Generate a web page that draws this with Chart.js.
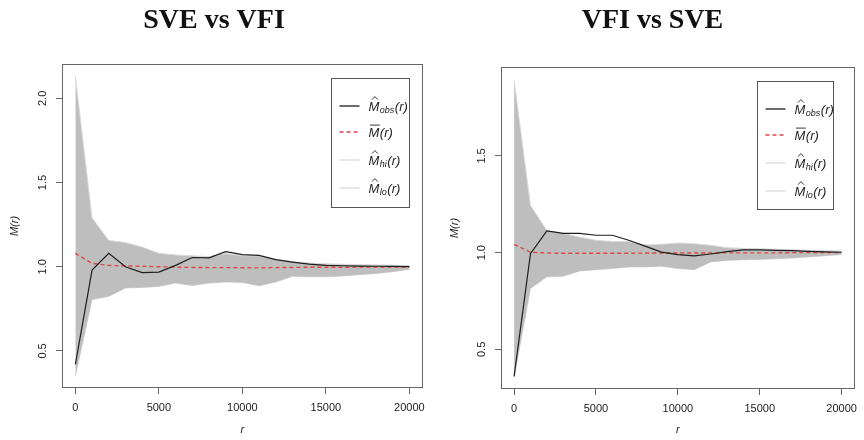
<!DOCTYPE html>
<html lang="en">
<head>
  <meta charset="UTF-8">
  <title>SVE vs VFI</title>
  <script src="https://cdn.jsdelivr.net/npm/chart.js"></script>
  <style>
    body {
      margin: 0;
      background: #fff;
    }
    canvas.panel {
      position: absolute;
      top: 0;
    }
  </style>
</head>
<body>
  <canvas id="leftChart" class="panel" width="432" height="440" style="left:0;width:432px;height:440px"></canvas>
  <canvas id="rightChart" class="panel" width="432" height="440" style="left:432px;width:432px;height:440px"></canvas>

  <script>
    // distance r at which M(r) is evaluated
    const rValues = [0, 1000, 2000, 3000, 4000, 5000, 6000, 7000, 8000, 9000, 10000,
      11000, 12000, 13000, 14000, 15000, 16000, 17000, 18000, 19000, 20000];
    const xTicks = [0, 5000, 10000, 15000, 20000];

    // SVE vs VFI
    const sveObs = [0.42, 0.98, 1.08, 1.00, 0.965, 0.968, 1.008, 1.055, 1.053, 1.09, 1.072,
      1.068, 1.042, 1.028, 1.016, 1.008, 1.006, 1.004, 1.003, 1.002, 1.001];
    const sveMean = [1.08, 1.02, 1.008, 1.005, 1.003, 1.0, 0.998, 0.996, 0.995, 0.995, 0.994,
      0.993, 0.995, 0.996, 0.997, 0.997, 0.997, 0.998, 0.998, 0.998, 0.998];
    const sveHi = [2.13, 1.29, 1.156, 1.144, 1.117, 1.08, 1.07, 1.065, 1.06, 1.078, 1.066,
      1.064, 1.045, 1.03, 1.022, 1.018, 1.015, 1.013, 1.011, 1.009, 1.006];
    const sveLo = [0.35, 0.805, 0.824, 0.874, 0.877, 0.883, 0.903, 0.889, 0.903, 0.909, 0.907,
      0.887, 0.909, 0.943, 0.94, 0.94, 0.945, 0.953, 0.96, 0.97, 0.985];
    const sveTicks = [0.5, 1.0, 1.5, 2.0];

    // VFI vs SVE
    const vfiObs = [0.36, 0.995, 1.112, 1.10, 1.10, 1.09, 1.09, 1.064, 1.034, 1.003, 0.99,
      0.983, 0.993, 1.005, 1.014, 1.014, 1.012, 1.01, 1.007, 1.004, 1.002];
    const vfiMean = [1.043, 1.002, 0.998, 0.997, 0.997, 0.997, 0.997, 0.997, 0.998, 0.998, 0.998,
      0.998, 0.998, 0.999, 0.999, 0.999, 0.999, 1.0, 1.0, 1.0, 1.0];
    const vfiHi = [1.89, 1.244, 1.115, 1.10, 1.08, 1.064, 1.058, 1.058, 1.04, 1.043, 1.05,
      1.046, 1.038, 1.026, 1.022, 1.02, 1.018, 1.015, 1.012, 1.01, 1.008];
    const vfiLo = [0.355, 0.815, 0.875, 0.878, 0.905, 0.912, 0.918, 0.926, 0.926, 0.93, 0.918,
      0.912, 0.952, 0.96, 0.963, 0.965, 0.968, 0.972, 0.978, 0.984, 0.99];
    const vfiTicks = [0.5, 1.0, 1.5];

    const FRAME = '#666';
    const INK = '#222';
    const OBS_COLOR = '#1e1e1e';
    const MEAN_COLOR = '#dd4646';
    const ENV_LINE = '#dadada';
    const ENV_FILL = '#bebebe';

    const toPoints = (ys) => ys.map((y, i) => ({ x: rValues[i], y: y }));

    // legend rows: line style + the M symbol decoration + subscript
    const keyRows = [
      { color: OBS_COLOR, dash: [], mark: 'hat', sub: 'obs' },
      { color: MEAN_COLOR, dash: [4, 3], mark: 'bar', sub: '' },
      { color: ENV_LINE, dash: [], mark: 'hat', sub: 'hi' },
      { color: ENV_LINE, dash: [], mark: 'hat', sub: 'lo' }
    ];
    const keyRowOffsets = [27, 53, 81, 109];

    function drawKey(chart, key) {
      const { ctx, chartArea } = chart;
      const bx = Math.round(chartArea.right - key.inset - key.w) + 0.5;
      const by = Math.round(chartArea.top + 14) + 0.5;

      ctx.save();
      ctx.fillStyle = '#fff';
      ctx.fillRect(bx, by, key.w, key.h);
      ctx.strokeStyle = '#555';
      ctx.lineWidth = 1;
      ctx.strokeRect(bx, by, key.w, key.h);

      keyRows.forEach((row, i) => {
        const y = Math.round(by + keyRowOffsets[i]);
        ctx.strokeStyle = row.color;
        ctx.lineWidth = 1.3;
        ctx.setLineDash(row.dash);
        ctx.beginPath();
        ctx.moveTo(bx + 8, y);
        ctx.lineTo(bx + 28, y);
        ctx.stroke();
        ctx.setLineDash([]);

        // M, with hat or bar, then subscript and (r)
        const base = y + 4.5;
        let tx = bx + 37;
        ctx.fillStyle = INK;
        ctx.textBaseline = 'alphabetic';
        ctx.textAlign = 'left';
        ctx.font = 'italic 13px "Liberation Sans", Arial, sans-serif';
        ctx.fillText('M', tx, base);
        const mw = ctx.measureText('M').width;
        const capTop = base - 9.4;
        ctx.strokeStyle = INK;
        ctx.lineWidth = 0.9;
        ctx.beginPath();
        if (row.mark === 'hat') {
          ctx.moveTo(tx + 3.5, capTop - 1.5);
          ctx.lineTo(tx + mw / 2 + 1, capTop - 4.5);
          ctx.lineTo(tx + mw - 1.5, capTop - 1.5);
        } else {
          ctx.moveTo(tx + 1.5, capTop - 2);
          ctx.lineTo(tx + mw + 0.5, capTop - 2);
        }
        ctx.stroke();
        tx += mw;
        if (row.sub) {
          ctx.font = 'italic 9px "Liberation Sans", Arial, sans-serif';
          ctx.fillText(row.sub, tx + 0.5, base + 2.5);
          tx += ctx.measureText(row.sub).width + 0.5;
        }
        ctx.font = 'italic 13px "Liberation Sans", Arial, sans-serif';
        ctx.fillText('(r)', tx + 0.5, base);
      });
      ctx.restore();
    }

    const framePlugin = {
      id: 'frameAndKey',
      afterDatasetsDraw(chart, args, opts) {
        const { ctx, chartArea } = chart;
        ctx.save();
        ctx.strokeStyle = FRAME;
        ctx.lineWidth = 1;
        const l = Math.round(chartArea.left) + 0.5;
        const t = Math.round(chartArea.top) + 0.5;
        const r = Math.round(chartArea.right) - 0.5;
        const b = Math.round(chartArea.bottom) - 0.5;
        ctx.strokeRect(l, t, r - l, b - t);
        ctx.restore();
        drawKey(chart, opts.key);
      }
    };

    function makeChart(id, cfg) {
      const ctx = document.getElementById(id).getContext('2d');
      return new Chart(ctx, {
        type: 'line',
        data: {
          datasets: [
            { label: 'obs', data: toPoints(cfg.obs), borderColor: OBS_COLOR, borderWidth: 1.2 },
            { label: 'mean', data: toPoints(cfg.mean), borderColor: MEAN_COLOR, borderWidth: 1.4, borderDash: [4, 3] },
            { label: 'hi', data: toPoints(cfg.hi), borderColor: ENV_LINE, borderWidth: 1, fill: 3, backgroundColor: ENV_FILL },
            { label: 'lo', data: toPoints(cfg.lo), borderColor: ENV_LINE, borderWidth: 1, fill: false }
          ]
        },
        options: {
          responsive: false,
          animation: false,
          elements: { point: { radius: 0 }, line: { tension: 0 } },
          layout: { padding: cfg.padding },
          plugins: {
            legend: { display: false },
            tooltip: { enabled: false },
            title: {
              display: true,
              text: cfg.title,
              color: '#111',
              font: { family: '"Liberation Serif", "Times New Roman", serif', size: 28, weight: 'bold', lineHeight: 1.2 },
              padding: cfg.titlePad
            },
            frameAndKey: { key: cfg.key }
          },
          scales: {
            x: {
              type: 'linear',
              min: -800,
              max: 20800,
              afterBuildTicks: (s) => { s.ticks = xTicks.map(v => ({ value: v })); },
              afterFit: (s) => { s.height = cfg.xAxisHeight; },
              border: { display: false },
              grid: { drawOnChartArea: false, tickLength: 6, color: FRAME },
              ticks: {
                autoSkip: false, maxRotation: 0, padding: 7, color: INK,
                font: { family: '"Liberation Sans", Arial, sans-serif', size: 11 },
                callback: (v) => String(v)
              },
              title: {
                display: true, text: 'r', color: INK,
                font: { family: '"Liberation Sans", Arial, sans-serif', size: 11, style: 'italic' },
                padding: { top: 0, bottom: 3 }
              }
            },
            y: {
              min: cfg.yMin,
              max: cfg.yMax,
              afterBuildTicks: (s) => { s.ticks = cfg.yTicks.map(v => ({ value: v })); },
              afterFit: (s) => { s.width = cfg.yAxisWidth; },
              border: { display: false },
              grid: { drawOnChartArea: false, tickLength: 6, color: FRAME },
              ticks: {
                minRotation: 90, maxRotation: 90, crossAlign: 'center', padding: 5, color: INK,
                font: { family: '"Liberation Sans", Arial, sans-serif', size: 11 },
                callback: (v) => v.toFixed(1)
              },
              title: {
                display: true, text: 'M(r)', color: INK,
                font: { family: '"Liberation Sans", Arial, sans-serif', size: 11, style: 'italic' },
                padding: { top: 4, bottom: 0 }
              }
            }
          }
        },
        plugins: [framePlugin]
      });
    }

    makeChart('leftChart', {
      title: 'SVE vs VFI',
      obs: sveObs, mean: sveMean, hi: sveHi, lo: sveLo,
      yMin: 0.28, yMax: 2.204, yTicks: sveTicks,
      padding: { left: 4, right: 8, top: 0, bottom: 0 },
      titlePad: { top: 4, bottom: 26.4 },
      yAxisWidth: 58,
      xAxisHeight: 52,
      key: { inset: 14, w: 78, h: 129 }
    });

    makeChart('rightChart', {
      title: 'VFI vs SVE',
      obs: vfiObs, mean: vfiMean, hi: vfiHi, lo: vfiLo,
      yMin: 0.295, yMax: 1.96, yTicks: vfiTicks,
      padding: { left: 12, right: 3, top: 0, bottom: 0 },
      titlePad: { top: 4, bottom: 29.4 },
      yAxisWidth: 57,
      xAxisHeight: 51,
      key: { inset: 22, w: 76, h: 128 }
    });
  </script>
</body>
</html>
